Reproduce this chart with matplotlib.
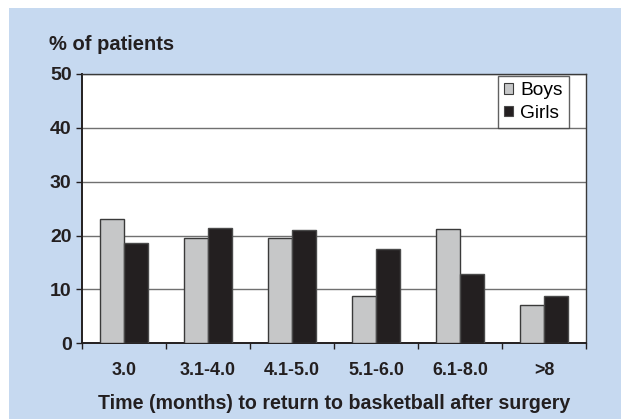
import matplotlib
matplotlib.use('Agg')

import numpy as np
import matplotlib.pyplot as plt
from matplotlib.patches import Rectangle

categories = ["3.0", "3.1-4.0", "4.1-5.0", "5.1-6.0", "6.1-8.0", ">8"]
boys = [23.1, 19.6, 19.5, 8.8, 21.3, 7.1]
girls = [18.7, 21.4, 21.0, 17.6, 12.8, 8.8]

plt.rcParams['font.family'] = ['Liberation Sans', 'DejaVu Sans']

W, H = 621, 419
fig = plt.figure(figsize=(W / 100, H / 100), dpi=100)
fig.patch.set_facecolor('white')

# light blue panel behind the chart
fig.add_artist(Rectangle((9 / W, 0), 1 - 9 / W, 1 - 8 / H,
                         transform=fig.transFigure, facecolor='#c6d9f0',
                         edgecolor='none', zorder=-5))

ax = fig.add_axes([82 / W, 1 - 343.3 / H, 504 / W, 269.3 / H])
ax.set_facecolor('white')

x = np.arange(len(categories))
width = 0.29

ax.bar(x - width / 2, boys, width=width, color='#c6c7c8',
       edgecolor='#3a3a3a', linewidth=1.0, label='Boys', zorder=3)
ax.bar(x + width / 2, girls, width=width, color='#231f20',
       edgecolor='#4a4a4a', linewidth=1.0, label='Girls', zorder=3)

ax.set_xlim(-0.5, len(categories) - 0.5)
ax.set_ylim(0, 50)
ax.set_yticks([0, 10, 20, 30, 40, 50])
ax.yaxis.grid(True, color='#707070', linewidth=1.0)
ax.set_axisbelow(True)

# category labels between the boundary ticks
ax.set_xticks(np.arange(len(categories) + 1) - 0.5)
ax.set_xticklabels([])
ax.set_xticks(x, minor=True)
ax.set_xticklabels(categories, minor=True, fontsize=12.9, fontweight='bold',
                   color='#231f20')
ax.tick_params(axis='x', which='minor', length=0, pad=13.5)
ax.tick_params(axis='x', which='major', length=4.3, width=1, color='#231f20',
               direction='out')
ax.tick_params(axis='y', length=4.3, width=1, color='#231f20', direction='out',
               labelsize=14, pad=3.2, labelcolor='#231f20')
for lab in ax.get_yticklabels():
    lab.set_fontweight('bold')

for side in ['top', 'right']:
    ax.spines[side].set_color('#3a3a3a')
    ax.spines[side].set_linewidth(1.0)
for side in ['left', 'bottom']:
    ax.spines[side].set_color('#231f20')
    ax.spines[side].set_linewidth(1.4)

ax.set_xlabel("Time (months) to return to basketball after surgery",
              fontsize=14.1, fontweight='bold', color='#231f20')
ax.xaxis.set_label_coords(0.5, (343.3 - 403.3) / 269.3)
ax.xaxis.label.set_va('center')

fig.text(49 / W, 1 - 45 / H, "% of patients", fontsize=14.5,
         fontweight='bold', color='#231f20', va='center', ha='left')

leg = ax.legend(loc='upper right', bbox_to_anchor=((569 - 82) / 504, (343.3 - 76) / 269.3),
                fontsize=13.8, frameon=True, fancybox=False,
                handlelength=0.43, handleheight=0.43, handletextpad=0.4,
                borderpad=0.33, labelspacing=0.28, borderaxespad=0)
leg.get_frame().set_edgecolor('#3a3a3a')
leg.get_frame().set_linewidth(1.0)
for h in leg.legend_handles:
    h.set_linewidth(0.8)

fig.savefig("out.png", dpi=100, facecolor=fig.get_facecolor())
